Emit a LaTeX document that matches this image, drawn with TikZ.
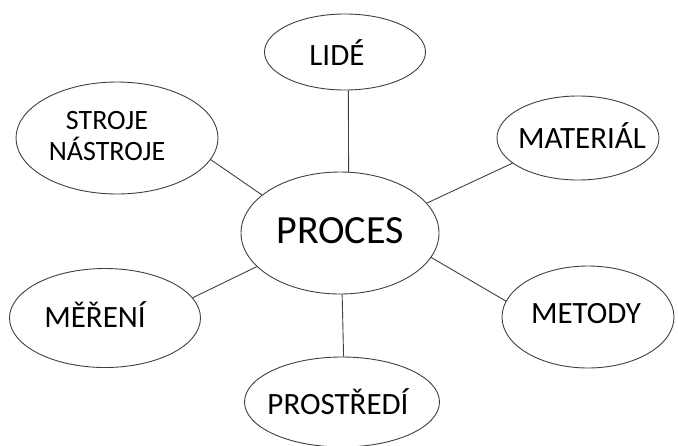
\documentclass[tikz,border=0pt]{standalone}
\usepackage{fontspec}
\setmainfont{Carlito}
\usetikzlibrary{shapes.geometric}
\begin{document}
\begin{tikzpicture}[x=1pt,y=-1pt,
  bubble/.style={ellipse, draw=black!75, line width=0.9pt, inner sep=0pt, fill=white},
  lbl/.style={inner sep=0pt, text=black, font=\fontsize{31}{34}\selectfont},
  link/.style={draw=black!75, line width=0.9pt}]
\useasboundingbox (0,0) rectangle (678,445);

% outline shapes
\node[bubble, minimum width=198pt, minimum height=122pt] (p) at (340,233) {};
\node[bubble, minimum width=161pt, minimum height=76pt]  (l) at (345,52) {};
\node[bubble, minimum width=202pt, minimum height=112pt] (s) at (117,138) {};
\node[bubble, minimum width=162pt, minimum height=84pt]  (m) at (578,138) {};
\node[bubble, minimum width=191pt, minimum height=99pt]  (r) at (105,318) {};
\node[bubble, minimum width=172pt, minimum height=102pt] (t) at (588,317) {};
\node[bubble, minimum width=195pt, minimum height=90pt]  (e) at (342,402) {};

% labels
\node[lbl, font=\fontsize{40}{44}\selectfont] (pt) at (340,231) {PROCES};
\node[lbl] (lt) at (337,53) {LIDÉ};
\node[lbl, font=\fontsize{28}{31}\selectfont, align=center] (st) at (107,136) {STROJE\\NÁSTROJE};
\node[lbl] (mt) at (582,136) {MATERIÁL};
\node[lbl] (rt) at (95,315) {MĚŘENÍ};
\node[lbl] (tt) at (586,314) {METODY};
\node[lbl] (et) at (338,402) {PROSTŘEDÍ};

% spokes
\draw[link] (l.-85.5) -- (p.82.5);
\draw[link] (s.-13.4) -- (p.154.6);
\draw[link] (m.-159.3) -- (p.19.6);
\draw[link] (r.13.4) -- (p.-158.2);
\draw[link] (t.169.5) -- (p.-15);
\draw[link] (e.88) -- (p.-88);
\end{tikzpicture}
\end{document}
